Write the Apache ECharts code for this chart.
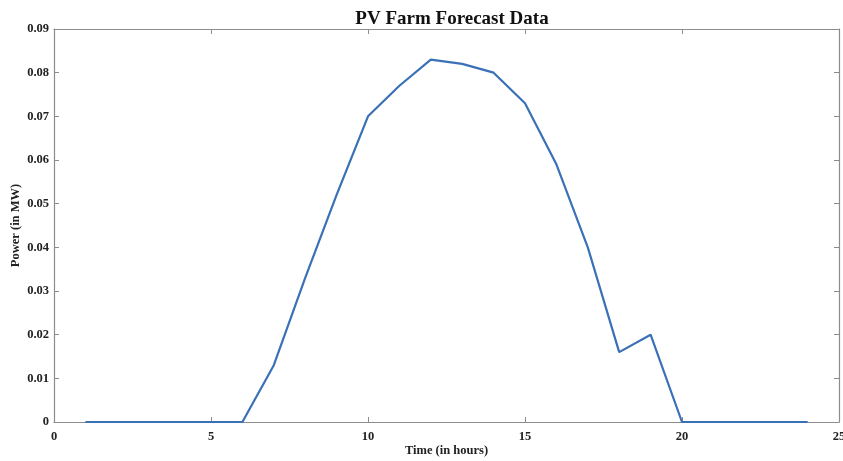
<!DOCTYPE html>
<html>
<head>
<meta charset="utf-8">
<script src="https://cdn.jsdelivr.net/npm/echarts@6/dist/echarts.min.js"></script>
<style>
  html, body { margin: 0; padding: 0; background: #fff; }
  #chart { width: 843px; height: 461px; }
</style>
</head>
<body>
<div id="chart"></div>
<script>
// hours of the day and forecast power (MW)
const hours = [1, 2, 3, 4, 5, 6, 7, 8, 9, 10, 11, 12, 13, 14, 15, 16, 17, 18, 19, 20, 21, 22, 23, 24]
const power = [0, 0, 0, 0, 0, 0, 0.013, 0.033, 0.052, 0.070, 0.077, 0.083, 0.082, 0.080, 0.073, 0.059, 0.040, 0.016, 0.020, 0, 0, 0, 0, 0]

const font = 'Liberation Serif'
const axisGray = '#8c8c8c'

const chart = echarts.init(document.getElementById('chart'))

const tickStyle = { inside: true, length: 5, lineStyle: { color: axisGray } }
const labelStyle = { fontFamily: font, fontWeight: 'bold', fontSize: 12.5, color: '#222' }
const nameStyle = { fontFamily: font, fontWeight: 'bold', fontSize: 12.5, color: '#222' }
const lineStyle = { show: true, onZero: false, lineStyle: { color: axisGray, width: 1.2 } }

chart.setOption({
  animation: false,
  title: {
    text: 'PV Farm Forecast Data',
    left: 447,
    textAlign: 'center',
    top: 5,
    textStyle: { fontFamily: font, fontWeight: 'bold', fontSize: 19, color: '#111' }
  },
  grid: { left: 54, right: 4, top: 29, bottom: 39, outerBoundsMode: 'none' },
  xAxis: [{
    type: 'value',
    min: 0, max: 25, interval: 5,
    name: 'Time (in hours)',
    nameLocation: 'middle',
    nameGap: 22,
    nameMoveOverlap: false,
    nameTextStyle: nameStyle,
    axisLine: lineStyle,
    axisTick: tickStyle,
    axisLabel: Object.assign({ margin: 8 }, labelStyle),
    splitLine: { show: false }
  }, {
    type: 'value', position: 'top',
    min: 0, max: 25, interval: 5,
    axisLine: lineStyle,
    axisTick: tickStyle,
    axisLabel: { show: false },
    splitLine: { show: false }
  }],
  yAxis: [{
    type: 'value',
    min: 0, max: 0.09, interval: 0.01,
    name: 'Power (in MW)',
    nameLocation: 'middle',
    nameGap: 32,
    nameMoveOverlap: false,
    nameTextStyle: nameStyle,
    axisLine: lineStyle,
    axisTick: tickStyle,
    axisLabel: Object.assign({
      margin: 5,
      formatter: v => v === 0 ? '0' : v.toFixed(2)
    }, labelStyle),
    splitLine: { show: false }
  }, {
    type: 'value', position: 'right',
    min: 0, max: 0.09, interval: 0.01,
    axisLine: lineStyle,
    axisTick: tickStyle,
    axisLabel: { show: false },
    splitLine: { show: false }
  }],
  series: [{
    type: 'line',
    data: hours.map((h, i) => [h, power[i]]),
    showSymbol: false,
    lineStyle: { color: '#3a70b6', width: 2.2 },
    itemStyle: { color: '#3a70b6' }
  }]
})
</script>
</body>
</html>
